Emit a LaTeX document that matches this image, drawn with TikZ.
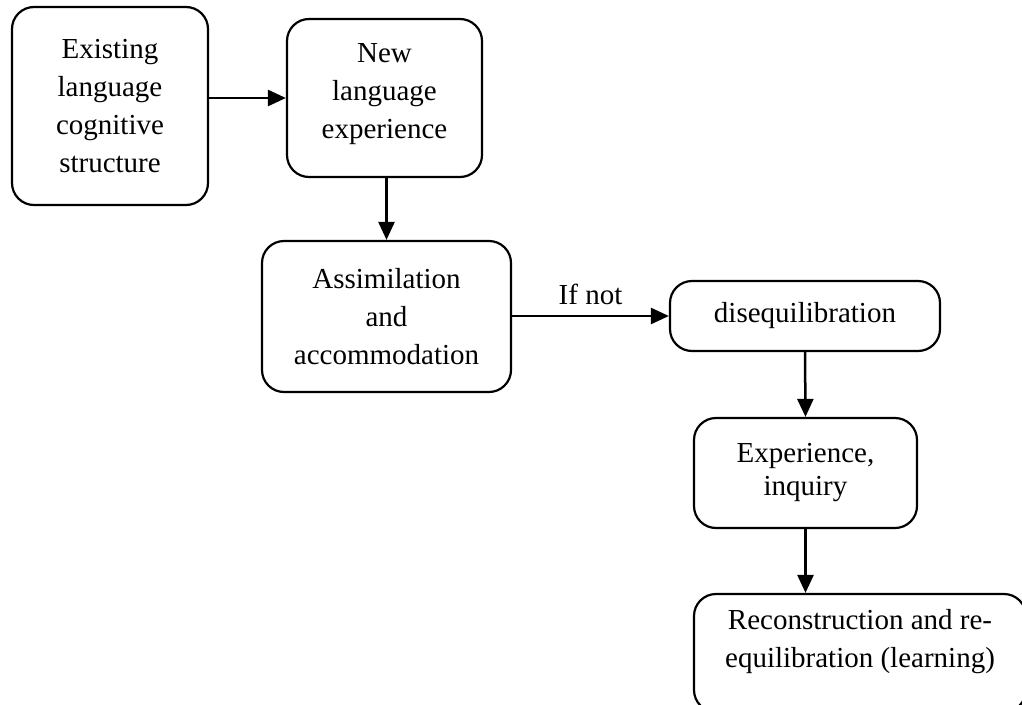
\documentclass[tikz,border=0pt]{standalone}
\usepackage{fontspec}
\setmainfont{Liberation Serif}
\usetikzlibrary{arrows.meta}
\begin{document}
\begin{tikzpicture}[x=1pt,y=-1pt,
  stepbox/.style={draw=black, line width=2.2pt, rounded corners=22pt, align=center,
    inner sep=0pt, font=\fontsize{29}{38}\selectfont},
  conn/.style={line width=2.5pt, -{Triangle[length=18pt,width=16pt]}},
  lbl/.style={font=\fontsize{29}{38}\selectfont, inner sep=0pt, align=center}]
\clip (0,0) rectangle (1022,704);
\node[stepbox, minimum width=196pt, minimum height=198pt] (A) at (110,106)
  {Existing\\language\\cognitive\\structure};
\node[stepbox, minimum width=195pt, minimum height=158pt] (B) at (384.5,98) {};
\node[lbl] (Btext) at (384.5,94) {New\\language\\experience};
\node[stepbox, minimum width=249pt, minimum height=151pt] (C) at (386.5,316.5)
  {Assimilation\\and\\accommodation};
\node[stepbox, minimum width=270pt, minimum height=70pt] (D) at (805,316)
  {disequilibration};
\node[stepbox, minimum width=223pt, minimum height=110pt, font=\fontsize{29}{33}\selectfont] (E) at (805.5,473)
  {Experience,\\inquiry};
\node[stepbox, minimum width=332pt, minimum height=118pt] (F) at (860,653) {};
\node[lbl] (Ftext) at (860,642) {Reconstruction and re-\\equilibration (learning)};
\draw[conn] (A.east |- B.west) -- (B.west);
\draw[conn] (B.south -| C.north) -- (C.north);
\draw[conn] (C.east |- D.west) -- node[lbl, above=10pt] {If not} (D.west);
\draw[conn] (D.south) -- (E.north);
\draw[conn] (E.south) -- (E.south |- F.north);
\end{tikzpicture}
\end{document}
